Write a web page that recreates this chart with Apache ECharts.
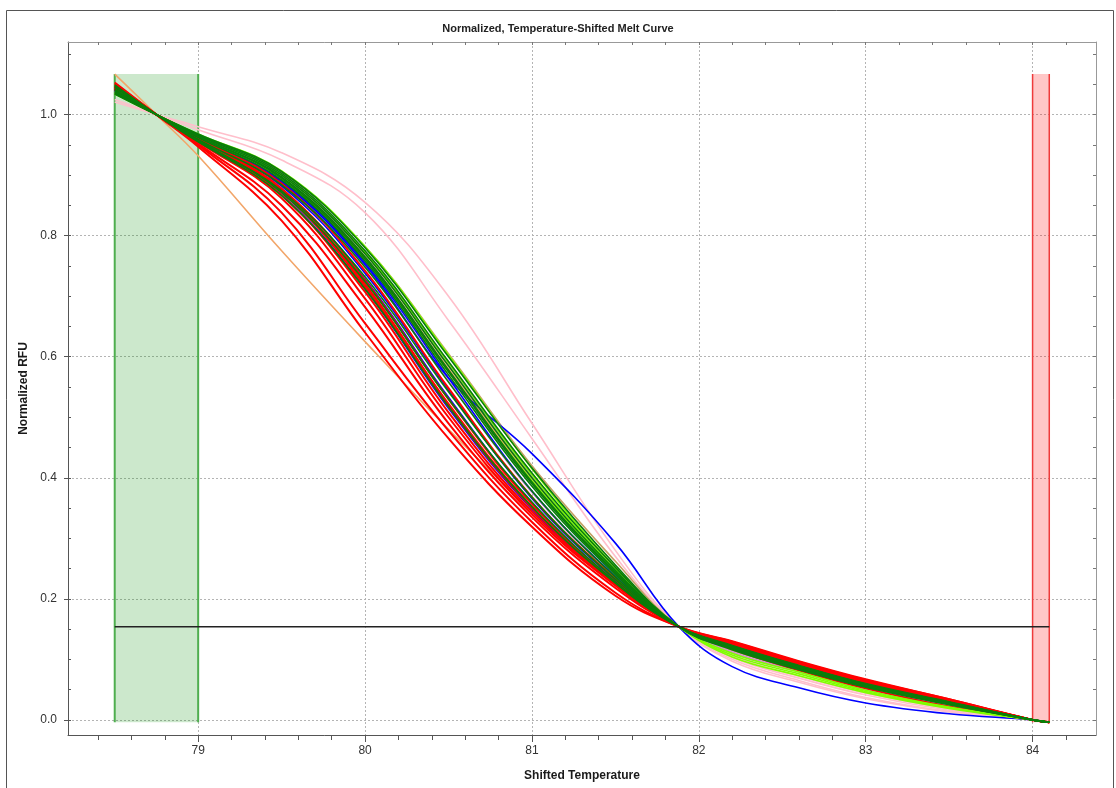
<!DOCTYPE html>
<html>
<head>
<meta charset="utf-8">
<script src="https://cdn.jsdelivr.net/npm/echarts@6/dist/echarts.min.js"></script>
<style>
  html, body { margin: 0; padding: 0; background: #fff; }
  #chart { width: 1116px; height: 788px; }
</style>
</head>
<body>
<div id="chart"></div>
<script>
// Shifted temperatures at which every normalized melt curve is sampled
const TEMPS = [78.5, 78.75, 79.0, 79.5, 80.0, 80.5, 81.0, 81.5, 81.88, 82.2, 82.6, 83.0, 83.5, 84.0, 84.1];

// Normalized RFU per well, grouped by trace colour
const redCurves = [
  [1.053, 1, 0.947, 0.825, 0.640, 0.465, 0.319, 0.205, 0.154, 0.130, 0.097, 0.067, 0.034, 0, -0.004],
  [1.051, 1, 0.950, 0.838, 0.655, 0.478, 0.327, 0.210, 0.154, 0.129, 0.096, 0.066, 0.034, 0, -0.004],
  [1.048, 1, 0.952, 0.850, 0.682, 0.490, 0.335, 0.218, 0.154, 0.128, 0.095, 0.065, 0.033, 0, -0.004],
  [1.046, 1, 0.955, 0.862, 0.696, 0.500, 0.340, 0.222, 0.154, 0.127, 0.094, 0.064, 0.032, 0, -0.004],
  [1.045, 1, 0.956, 0.867, 0.707, 0.508, 0.344, 0.224, 0.154, 0.127, 0.094, 0.064, 0.032, 0, -0.004],
  [1.044, 1, 0.957, 0.872, 0.716, 0.518, 0.350, 0.226, 0.154, 0.126, 0.093, 0.063, 0.031, 0, -0.004],
  [1.043, 1, 0.959, 0.878, 0.726, 0.530, 0.357, 0.228, 0.154, 0.125, 0.092, 0.062, 0.031, 0, -0.004],
  [1.041, 1, 0.961, 0.886, 0.742, 0.548, 0.368, 0.233, 0.154, 0.124, 0.091, 0.061, 0.030, 0, -0.004],
  [1.043, 1, 0.958, 0.875, 0.720, 0.522, 0.352, 0.225, 0.154, 0.117, 0.082, 0.052, 0.022, 0, -0.004]
];
const blueCurves = [
  [1.041, 1, 0.960, 0.882, 0.738, 0.545, 0.366, 0.231, 0.154, 0.124, 0.091, 0.061, 0.030, 0, -0.004],
  [1.043, 1, 0.958, 0.876, 0.728, 0.533, 0.358, 0.228, 0.154, 0.126, 0.093, 0.063, 0.032, 0, -0.004],
  [1.039, 1, 0.962, 0.890, 0.755, 0.565, 0.378, 0.237, 0.154, 0.123, 0.090, 0.060, 0.030, 0, -0.004],
  [1.045, 1, 0.956, 0.868, 0.712, 0.515, 0.348, 0.225, 0.154, 0.128, 0.095, 0.065, 0.033, 0, -0.004],
  [1.040, 1, 0.961, 0.888, 0.752, 0.565, 0.440, 0.292, 0.154, 0.088, 0.053, 0.028, 0.010, 0, -0.004]
];
const greenCurves = [
  [1.049, 1, 0.955, 0.874, 0.732, 0.542, 0.368, 0.232, 0.154, 0.122, 0.089, 0.059, 0.029, 0, -0.004],
  [1.045, 1, 0.959, 0.884, 0.748, 0.558, 0.378, 0.236, 0.154, 0.121, 0.088, 0.058, 0.028, 0, -0.004],
  [1.040, 1, 0.962, 0.892, 0.758, 0.570, 0.386, 0.240, 0.154, 0.120, 0.087, 0.057, 0.028, 0, -0.004],
  [1.038, 1, 0.964, 0.897, 0.765, 0.578, 0.393, 0.244, 0.154, 0.119, 0.086, 0.057, 0.027, 0, -0.004],
  [1.036, 1, 0.966, 0.900, 0.770, 0.585, 0.400, 0.247, 0.154, 0.118, 0.085, 0.056, 0.026, 0, -0.004],
  [1.035, 1, 0.967, 0.903, 0.775, 0.592, 0.408, 0.252, 0.154, 0.117, 0.084, 0.055, 0.026, 0, -0.004],
  [1.042, 1, 0.958, 0.871, 0.724, 0.530, 0.360, 0.228, 0.154, 0.122, 0.089, 0.059, 0.029, 0, -0.004],
  [1.047, 1, 0.956, 0.866, 0.712, 0.518, 0.352, 0.226, 0.154, 0.123, 0.090, 0.060, 0.030, 0, -0.004],
  [1.037, 1, 0.964, 0.895, 0.762, 0.575, 0.390, 0.242, 0.154, 0.120, 0.087, 0.057, 0.027, 0, -0.004],
  [1.034, 1, 0.968, 0.906, 0.780, 0.600, 0.416, 0.256, 0.154, 0.116, 0.083, 0.054, 0.025, 0, -0.004]
];
const limeCurves = [
  [1.034, 1, 0.968, 0.907, 0.782, 0.603, 0.415, 0.252, 0.154, 0.107, 0.076, 0.047, 0.020, 0, -0.004],
  [1.036, 1, 0.966, 0.900, 0.772, 0.590, 0.405, 0.248, 0.154, 0.104, 0.073, 0.045, 0.019, 0, -0.004],
  [1.038, 1, 0.964, 0.895, 0.760, 0.575, 0.395, 0.245, 0.154, 0.110, 0.079, 0.049, 0.021, 0, -0.004]
];
const pinkCurves = [
  [1.021, 1, 0.980, 0.937, 0.855, 0.700, 0.490, 0.280, 0.154, 0.097, 0.062, 0.035, 0.013, 0, -0.004],
  [1.025, 1, 0.975, 0.925, 0.838, 0.660, 0.465, 0.270, 0.154, 0.100, 0.065, 0.037, 0.014, 0, -0.004],
  [1.036, 1, 0.966, 0.900, 0.768, 0.585, 0.400, 0.250, 0.154, 0.103, 0.069, 0.041, 0.016, 0, -0.004],
  [1.038, 1, 0.963, 0.893, 0.758, 0.570, 0.390, 0.246, 0.154, 0.106, 0.072, 0.044, 0.018, 0, -0.004]
];
const orangeCurves = [
  [1.067, 1, 0.932, 0.775, 0.625, 0.480, 0.345, 0.222, 0.154, 0.120, 0.087, 0.057, 0.027, 0, -0.004],
  [1.037, 1, 0.964, 0.896, 0.764, 0.580, 0.398, 0.248, 0.154, 0.115, 0.083, 0.054, 0.025, 0, -0.004]
];
const tanCurves = [
  [1.035, 1, 0.966, 0.905, 0.782, 0.605, 0.420, 0.262, 0.154, 0.115, 0.083, 0.054, 0.025, 0, -0.004],
  [1.039, 1, 0.963, 0.894, 0.762, 0.576, 0.392, 0.243, 0.154, 0.119, 0.086, 0.056, 0.027, 0, -0.004]
];
const orchidCurves = [
  [1.036, 1, 0.966, 0.902, 0.772, 0.588, 0.402, 0.249, 0.154, 0.110, 0.079, 0.050, 0.022, 0, -0.004],
  [1.040, 1, 0.962, 0.888, 0.750, 0.560, 0.376, 0.236, 0.154, 0.112, 0.081, 0.052, 0.023, 0, -0.004]
];

// Axis tick labels
const X_LABELS = [79, 80, 81, 82, 83, 84];
const Y_LABELS = [0.0, 0.2, 0.4, 0.6, 0.8, 1.0];

// Analysis windows and threshold
const START_WINDOW = [78.5, 79.0];
const END_WINDOW = [84.0, 84.1];
const WINDOW_RFU = [-0.004, 1.067];
const THRESHOLD_RFU = 0.154;

const X_MIN = 78.22, X_MAX = 84.38;
const Y_MIN = -0.025, Y_MAX = 1.12;

function steps(a, b, step) {
  const out = [];
  const n = Math.round((b - a) / step);
  for (let i = 0; i <= n; i++) out.push(+(a + i * step).toFixed(3));
  return out;
}
const xMinorTicks = steps(78.4, 84.2, 0.2);
const yMinorTicks = steps(0, 1.1, 0.05);

const FONT = '"Liberation Sans", Arial, Helvetica, sans-serif';

const chart = echarts.init(document.getElementById('chart'), null, { renderer: 'canvas' });

function tickAxis(base, extra) {
  return Object.assign({
    type: 'value', gridIndex: 0,
    axisLine: { show: false, onZero: false },
    axisLabel: { show: false },
    splitLine: { show: false },
    silent: true
  }, base, extra);
}

const xAxes = [
  {
    type: 'value', min: X_MIN, max: X_MAX, position: 'bottom',
    name: 'Shifted Temperature', nameLocation: 'middle', nameGap: 35,
    nameTextStyle: { fontWeight: 'bold', fontSize: 12, color: '#1a1a1a', fontFamily: FONT },
    axisLine: { show: true, onZero: false, lineStyle: { color: '#555', width: 1 } },
    axisTick: { show: true, customValues: X_LABELS, length: 7, lineStyle: { color: '#555' } },
    axisLabel: { customValues: X_LABELS, margin: 10, fontSize: 12, color: '#333', fontFamily: FONT,
                 formatter: v => String(v) },
    splitLine: { show: true, lineStyle: { color: '#b4b4b4', type: [2, 2], width: 1 } }
  },
  tickAxis({ min: X_MIN, max: X_MAX, position: 'bottom' },
    { axisTick: { show: true, customValues: xMinorTicks, length: 5, lineStyle: { color: '#555' } } }),
  tickAxis({ min: X_MIN, max: X_MAX, position: 'top' },
    { axisLine: { show: true, onZero: false, lineStyle: { color: '#999' } },
      axisTick: { show: true, inside: true, customValues: xMinorTicks, length: 3, lineStyle: { color: '#777' } } })
];

const yAxes = [
  {
    type: 'value', min: Y_MIN, max: Y_MAX, position: 'left',
    name: 'Normalized RFU', nameLocation: 'middle', nameGap: 38, nameRotate: 90,
    nameTextStyle: { fontWeight: 'bold', fontSize: 12, color: '#1a1a1a', fontFamily: FONT },
    axisLine: { show: true, onZero: false, lineStyle: { color: '#555', width: 1 } },
    axisTick: { show: true, customValues: Y_LABELS, length: 4, lineStyle: { color: '#555' } },
    axisLabel: { customValues: Y_LABELS, margin: 11, fontSize: 12, color: '#333', fontFamily: FONT,
                 formatter: v => v.toFixed(1) },
    splitLine: { show: true, lineStyle: { color: '#b4b4b4', type: [2, 2], width: 1 } }
  },
  tickAxis({ min: Y_MIN, max: Y_MAX, position: 'left' },
    { axisTick: { show: true, inside: true, customValues: yMinorTicks, length: 3, lineStyle: { color: '#555' } } }),
  tickAxis({ min: Y_MIN, max: Y_MAX, position: 'right' },
    { axisLine: { show: true, onZero: false, lineStyle: { color: '#999' } },
      axisTick: { show: true, inside: true, customValues: yMinorTicks, length: 3, lineStyle: { color: '#777' } } })
];

const series = [];

// Shaded analysis windows
function windowSeries(range, fill) {
  return {
    type: 'line', data: [], silent: true, animation: false,
    markArea: {
      silent: true, animation: false,
      itemStyle: { color: fill, borderWidth: 0 },
      data: [[{ coord: [range[0], WINDOW_RFU[0]] }, { coord: [range[1], WINDOW_RFU[1]] }]]
    }
  };
}
series.push(windowSeries(START_WINDOW, 'rgba(0,140,0,0.2)'));
series.push(windowSeries(END_WINDOW, 'rgba(255,0,0,0.22)'));

// Window edges
function edge(x, color, width) {
  return {
    type: 'line', silent: true, animation: false, showSymbol: false, symbol: 'none',
    lineStyle: { color: color, width: width },
    data: [[x, WINDOW_RFU[0]], [x, WINDOW_RFU[1]]]
  };
}
series.push(edge(START_WINDOW[0], '#4fae4f', 2));
series.push(edge(START_WINDOW[1], '#4fae4f', 2));
series.push(edge(END_WINDOW[0], '#ee3b3b', 1.5));
series.push(edge(END_WINDOW[1], '#ee3b3b', 1.5));

// Melt curves
const groups = [
  { curves: pinkCurves, color: '#ffbfcb', width: 1.6 },
  { curves: orangeCurves, color: '#f2a66a', width: 1.6 },
  { curves: tanCurves, color: '#c4a062', width: 1.6 },
  { curves: orchidCurves, color: '#d48ad4', width: 1.6 },
  { curves: blueCurves, color: '#0000ff', width: 1.6 },
  { curves: redCurves, color: '#ff0000', width: 2 },
  { curves: limeCurves, color: '#80ff00', width: 1.6 },
  { curves: greenCurves, color: '#0a7d0a', width: 1.6 }
];
groups.forEach(g => {
  g.curves.forEach(vals => {
    series.push({
      type: 'line', silent: true, animation: false, showSymbol: false, symbol: 'none',
      smooth: 0.4,
      lineStyle: { color: g.color, width: g.width },
      data: TEMPS.map((t, i) => [t, vals[i]])
    });
  });
});

// Threshold line
series.push({
  type: 'line', silent: true, animation: false, showSymbol: false, symbol: 'none',
  lineStyle: { color: '#222', width: 1.5 },
  data: [[START_WINDOW[0], THRESHOLD_RFU], [END_WINDOW[1], THRESHOLD_RFU]]
});

chart.setOption({
  animation: false,
  backgroundColor: '#fff',
  title: {
    text: 'Normalized, Temperature-Shifted Melt Curve',
    left: 'center', top: 18,
    textStyle: { fontSize: 11, fontWeight: 'bold', color: '#222', fontFamily: FONT }
  },
  grid: { left: 68, top: 42, width: 1028, height: 693, containLabel: false },
  xAxis: xAxes,
  yAxis: yAxes,
  series: series,
  graphic: [{
    type: 'rect', silent: true, z: -10,
    shape: { x: 6.5, y: 10.5, width: 1107, height: 800 },
    style: { fill: null, stroke: '#555', lineWidth: 1 }
  }]
});
</script>
</body>
</html>
